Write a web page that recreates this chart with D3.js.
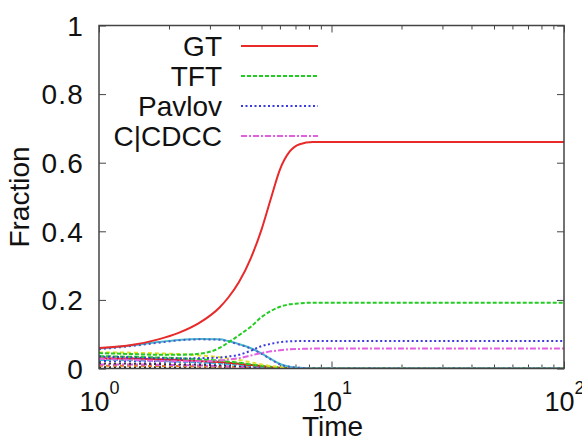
<!DOCTYPE html>
<html>
<head>
<meta charset="utf-8">
<script src="https://cdn.jsdelivr.net/npm/d3@7"></script>
<style>
  html, body { margin: 0; padding: 0; background: #fff; }
  svg { display: block; font-family: "Liberation Sans", Arial, Helvetica, sans-serif; }
</style>
</head>
<body>
<svg id="chart" width="582" height="442"></svg>
<script>
// ---- data ----
const times = [1, 1.4, 1.8, 2.2, 2.7, 3.3, 3.6, 4, 4.5, 5, 5.5, 6, 6.6, 7.3, 8.3, 10, 20, 50, 100];

const gtValues     = [0.060, 0.069, 0.085, 0.104, 0.133, 0.178, 0.207, 0.252, 0.322, 0.405, 0.498, 0.580, 0.632, 0.654, 0.660, 0.660, 0.660, 0.660, 0.660];
const tftValues    = [0.045, 0.042, 0.040, 0.040, 0.043, 0.060, 0.076, 0.097, 0.122, 0.150, 0.168, 0.180, 0.187, 0.190, 0.192, 0.192, 0.192, 0.192, 0.192];
const pavlovValues = [0.035, 0.032, 0.030, 0.029, 0.030, 0.032, 0.035, 0.040, 0.052, 0.065, 0.072, 0.077, 0.079, 0.080, 0.080, 0.080, 0.080, 0.080, 0.080];
const ccdccValues  = [0.028, 0.025, 0.022, 0.021, 0.021, 0.023, 0.026, 0.030, 0.038, 0.045, 0.050, 0.053, 0.056, 0.057, 0.058, 0.058, 0.058, 0.058, 0.058];

// unlabeled strategies
const humpCyanValues  = [0.058, 0.068, 0.077, 0.083, 0.086, 0.085, 0.080, 0.071, 0.059, 0.044, 0.027, 0.013, 0.005, 0.002, 0.000, 0, 0, 0, 0];
const humpBlueValues  = [0.056, 0.066, 0.075, 0.082, 0.085, 0.084, 0.079, 0.070, 0.058, 0.043, 0.026, 0.012, 0.005, 0.002, 0.000, 0, 0, 0, 0];
const yellowValues    = [0.047, 0.046, 0.044, 0.042, 0.038, 0.033, 0.029, 0.025, 0.018, 0.012, 0.007, 0.004, 0.002, 0.001, 0, 0, 0, 0, 0];
const greenLowValues  = [0.036, 0.034, 0.032, 0.030, 0.027, 0.023, 0.020, 0.017, 0.012, 0.008, 0.005, 0.003, 0.001, 0, 0, 0, 0, 0, 0];
const redLowValues    = [0.030, 0.029, 0.027, 0.025, 0.022, 0.019, 0.017, 0.014, 0.010, 0.007, 0.004, 0.002, 0.001, 0, 0, 0, 0, 0, 0];
const cyanLowValues   = [0.025, 0.024, 0.022, 0.020, 0.018, 0.015, 0.013, 0.011, 0.008, 0.005, 0.003, 0.001, 0, 0, 0, 0, 0, 0, 0];
const blueLowValues   = [0.022, 0.021, 0.020, 0.019, 0.017, 0.014, 0.012, 0.010, 0.007, 0.005, 0.003, 0.001, 0, 0, 0, 0, 0, 0, 0];
const blackValues     = [0.015, 0.014, 0.013, 0.012, 0.011, 0.009, 0.008, 0.007, 0.005, 0.003, 0.002, 0.001, 0, 0, 0, 0, 0, 0, 0];
const magentaLowValues= [0.012, 0.012, 0.011, 0.010, 0.009, 0.007, 0.006, 0.005, 0.004, 0.002, 0.001, 0, 0, 0, 0, 0, 0, 0, 0];
const orangeValues    = [0.008, 0.008, 0.007, 0.007, 0.006, 0.005, 0.005, 0.004, 0.003, 0.002, 0.001, 0, 0, 0, 0, 0, 0, 0, 0];
const blackLowValues  = [0.004, 0.004, 0.004, 0.003, 0.003, 0.002, 0.002, 0.002, 0.001, 0.001, 0, 0, 0, 0, 0, 0, 0, 0, 0];

const legendLabels = ["GT", "TFT", "Pavlov", "C|CDCC"];
const xTickValues = [1, 10, 100];
const xTickExponents = ["0", "1", "2"];
const yTickValues = [0, 0.2, 0.4, 0.6, 0.8, 1];
const yTickLabels = ["0", "0.2", "0.4", "0.6", "0.8", "1"];
const xAxisTitle = "Time";
const yAxisTitle = "Fraction";

// ---- layout ----
const pLeft = 99, pRight = 564, pTop = 25.5, pBottom = 368.5;
const svg = d3.select("#chart");

const x = d3.scaleLog().domain([1, 100]).range([pLeft, pRight]);
const y = d3.scaleLinear().domain([0, 1]).range([pBottom, pTop]);

const minorTicks = [2,3,4,5,6,7,8,9,20,30,40,50,60,70,80,90];
const axisColor = "#444";

function styleAxis(g) {
  g.select(".domain").remove();
  g.selectAll(".tick line").attr("stroke", axisColor).attr("stroke-width", 1);
}

// x major/minor ticks bottom & top
svg.append("g").attr("transform", `translate(0,${pBottom})`)
  .call(d3.axisBottom(x).tickValues(minorTicks).tickSize(-4).tickFormat(""))
  .call(styleAxis);
svg.append("g").attr("transform", `translate(0,${pTop})`)
  .call(d3.axisTop(x).tickValues(minorTicks).tickSize(-4).tickFormat(""))
  .call(styleAxis);
svg.append("g").attr("transform", `translate(0,${pTop})`)
  .call(d3.axisTop(x).tickValues(xTickValues).tickSize(-7).tickFormat(""))
  .call(styleAxis);

const xAxisG = svg.append("g").attr("transform", `translate(0,${pBottom})`)
  .call(d3.axisBottom(x).tickValues(xTickValues).tickSize(-7).tickFormat(""))
  .call(styleAxis);
xAxisG.selectAll(".tick text").remove();
xAxisG.selectAll(".tick").each(function(d, i) {
  const t = d3.select(this).append("text")
    .attr("y", 42)
    .attr("fill", "#111")
    .attr("text-anchor", "middle")
    .style("font-size", "27px");
  t.append("tspan").text("10");
  t.append("tspan").attr("dy", -17).style("font-size", "18px").text(xTickExponents[i]);
});

// y ticks left & right
svg.append("g").attr("transform", `translate(${pLeft},0)`)
  .call(d3.axisLeft(y).tickValues(yTickValues).tickSize(-7).tickPadding(15)
        .tickFormat((d, i) => yTickLabels[i]))
  .call(styleAxis)
  .call(g => g.selectAll(".tick text").attr("fill", "#111").style("font-size", "28px")
         .style("letter-spacing", "1.2px").attr("dy", "0.35em"));
svg.append("g").attr("transform", `translate(${pRight},0)`)
  .call(d3.axisRight(y).tickValues(yTickValues).tickSize(-7).tickFormat(""))
  .call(styleAxis);

// clip
svg.append("clipPath").attr("id", "clip")
  .append("rect").attr("x", pLeft).attr("y", pTop - 2).attr("width", pRight - pLeft).attr("height", pBottom - pTop + 2);

const line = d3.line()
  .x((d, i) => x(times[i]))
  .y(d => y(d))
  .curve(d3.curveMonotoneX);

const plotG = svg.append("g").attr("clip-path", "url(#clip)");

const minorSeries = [
  { values: blackLowValues,   color: "#222222", dash: "2,3" },
  { values: orangeValues,     color: "#e08020", dash: "4,3" },
  { values: magentaLowValues, color: "#dd55dd", dash: "6,3,2,3" },
  { values: blackValues,      color: "#333333", dash: "2,3" },
  { values: blueLowValues,    color: "#3333dd", dash: "2,3" },
  { values: cyanLowValues,    color: "#33bbcc", dash: "5,2" },
  { values: redLowValues,     color: "#e02020", dash: null },
  { values: greenLowValues,   color: "#22cc22", dash: "5,2" },
  { values: yellowValues,     color: "#e0e020", dash: "4,3" },
  { values: humpCyanValues,   color: "#44bbcc", dash: null },
  { values: humpBlueValues,   color: "#5555cc", dash: "2,3" },
];

const mainSeries = [
  { values: ccdccValues,  color: "#e060e0", dash: "6,2,2,2" },
  { values: pavlovValues, color: "#3a3ae0", dash: "2,2.5" },
  { values: tftValues,    color: "#22cc22", dash: "4,2" },
  { values: gtValues,     color: "#e82a2a", dash: null },
];

minorSeries.concat(mainSeries).forEach(s => {
  plotG.append("path")
    .datum(s.values)
    .attr("d", line)
    .attr("fill", "none")
    .attr("stroke", s.color)
    .attr("stroke-width", 2)
    .attr("stroke-dasharray", s.dash);
});

// frame
svg.append("rect")
  .attr("x", pLeft).attr("y", pTop)
  .attr("width", pRight - pLeft).attr("height", pBottom - pTop)
  .attr("fill", "none").attr("stroke", axisColor).attr("stroke-width", 1.5);

// legend
const legendStyles = [mainSeries[3], mainSeries[2], mainSeries[1], mainSeries[0]];
const legend = svg.append("g");
legendLabels.forEach((lab, i) => {
  const ly = 46 + i * 30;
  legend.append("text")
    .attr("x", 222).attr("y", ly + 10)
    .attr("text-anchor", "end")
    .attr("fill", "#111")
    .style("font-size", "28px")
    .text(lab);
  legend.append("line")
    .attr("x1", 241).attr("x2", 318)
    .attr("y1", ly).attr("y2", ly)
    .attr("stroke", legendStyles[i].color)
    .attr("stroke-width", 2)
    .attr("stroke-dasharray", legendStyles[i].dash);
});

// axis titles
svg.append("text")
  .attr("x", (pLeft + pRight) / 2 + 1).attr("y", 436)
  .attr("text-anchor", "middle")
  .attr("fill", "#111")
  .style("font-size", "28px")
  .text(xAxisTitle);

svg.append("text")
  .attr("transform", `translate(29,${(pTop + pBottom) / 2}) rotate(-90)`)
  .attr("text-anchor", "middle")
  .attr("fill", "#111")
  .style("font-size", "28px")
  .text(yAxisTitle);
</script>
</body>
</html>
